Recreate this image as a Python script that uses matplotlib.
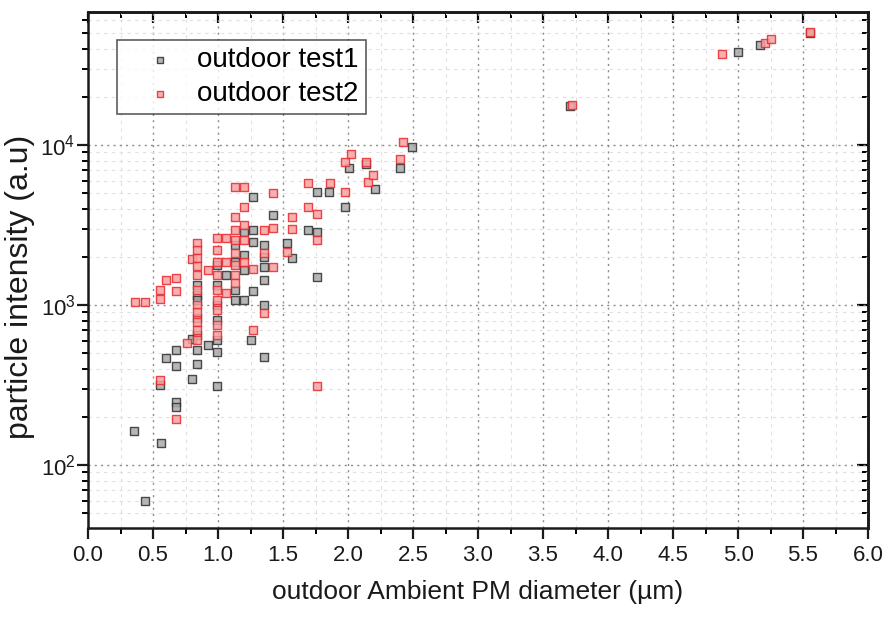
import matplotlib
matplotlib.use("Agg")
import matplotlib.pyplot as plt
from matplotlib.ticker import LogLocator, NullFormatter, MultipleLocator, FixedLocator
import numpy as np

plt.rcParams['font.family'] = ['Liberation Sans', 'DejaVu Sans']

# outdoor test 1 (diameter in um, intensity in a.u.)
test1_x = [0.35, 0.44, 0.56, 0.55, 0.60, 0.68, 0.68, 0.68, 0.68, 0.80, 0.84, 0.80, 0.92, 0.99,
           0.84, 0.84, 0.84, 0.84, 0.84, 0.84,
           0.99, 0.99, 0.99, 0.99, 0.99, 0.99,
           1.13, 1.13, 1.13, 1.13,
           1.20, 1.20, 1.20, 1.20, 1.25,
           1.27, 1.27, 1.27, 1.27,
           1.35, 1.35, 1.35, 1.35, 1.35, 1.35,
           1.06, 1.42, 1.53, 1.57, 1.69, 1.76, 1.76, 1.76, 1.85, 1.98, 2.01, 2.14, 2.21,
           2.40, 2.49, 3.71, 5.00, 5.17, 5.55]
test1_y = [164, 60, 137, 316, 465, 524, 417, 247, 229, 345, 427, 610, 562, 312,
           1334, 1155, 1072, 830, 650, 524,
           1778, 1334, 1000, 805, 602, 509,
           2371, 1858, 1240, 1072,
           2858, 2054, 1660, 1072, 605,
           4730, 2950, 2470, 1230,
           2000, 2371, 1730, 1433, 1000, 473,
           1550, 3650, 2450, 1960, 2940, 2870, 1500, 5100, 5100, 4100, 7200, 7600, 5300,
           7200, 9700, 17500, 38300, 42200, 50000]

# outdoor test 2
test2_x = [0.36, 0.44, 0.55, 0.55, 0.60, 0.68, 0.68, 0.55, 0.68, 0.76, 0.80, 0.92, 1.27, 1.35,
           0.84, 0.84, 0.84, 0.84, 0.84, 0.84, 0.84, 0.84, 0.84, 0.84, 0.84,
           0.99, 0.99, 0.99, 0.99, 0.99, 0.99, 0.99, 0.99, 0.99,
           1.06, 1.06, 1.06,
           1.13, 1.13, 1.13, 1.13, 1.13, 1.13, 1.13, 1.13,
           1.20, 1.20, 1.20, 1.20, 1.20,
           1.27, 1.35, 1.35,
           1.42, 1.42, 1.42, 1.57, 1.57, 1.53, 1.69, 1.69, 1.76, 1.76, 1.76, 1.86,
           1.98, 1.98, 2.02, 2.14, 2.15, 2.19, 2.40, 2.42, 3.72, 4.88, 5.21, 5.25, 5.55]
test2_y = [1048, 1048, 1090, 1240, 1440, 1480, 1230, 340, 195, 575, 1940, 1660, 694, 890,
           2440, 2210, 1970, 1750, 1550, 1240, 1000, 904, 783, 695, 602,
           2630, 2210, 1858, 1550, 1240, 1072, 930, 750, 649,
           2630, 1190, 1858,
           5480, 3550, 2940, 2550, 2110, 1778, 1550, 1372,
           5480, 4070, 3160, 2550, 1858,
           1670, 2950, 2110,
           5000, 1730, 3030, 3550, 2990, 2140, 5800, 4100, 3700, 2560, 310, 5800,
           7800, 5100, 8800, 7800, 5900, 6500, 8200, 10400, 17800, 37000, 43500, 46000, 51000]

series_labels = ["outdoor test1", "outdoor test2"]
x_ticks = [0.0, 0.5, 1.0, 1.5, 2.0, 2.5, 3.0, 3.5, 4.0, 4.5, 5.0, 5.5, 6.0]

fig = plt.figure(figsize=(8.9, 6.19), dpi=100)
ax = fig.add_axes([88 / 890, 1 - 528 / 619, 780 / 890, 516 / 619])

ax.set_yscale('log')
ax.set_xlim(0.0, 6.0)
ax.set_ylim(40.4, 67800)

# grid: dotted majors, faint dashed minors
ax.grid(True, which='major', color='#8c8c8c', linestyle=(0, (1.5, 3)), linewidth=1.0)
ax.grid(True, which='minor', color='#e0e0e0', linestyle=(0, (3, 4)), linewidth=0.8)
ax.set_axisbelow(True)

ms = 34
ax.scatter(test1_x, test1_y, s=ms, marker='s', facecolors='#a9a9a9', edgecolors='#2e2e2e',
           linewidths=1.0, alpha=0.85, label=series_labels[0], zorder=3)
ax.scatter(test2_x, test2_y, s=ms, marker='s', facecolors='#f6a3a3', edgecolors='#e8282e',
           linewidths=1.0, alpha=0.85, label=series_labels[1], zorder=3)

ax.xaxis.set_major_locator(FixedLocator(x_ticks))
ax.xaxis.set_minor_locator(MultipleLocator(0.25))
ax.set_xticklabels([f"{v:.1f}" for v in x_ticks])
ax.yaxis.set_major_locator(LogLocator(base=10))
ax.yaxis.set_minor_locator(LogLocator(base=10, subs=np.arange(2, 10)))
ax.yaxis.set_minor_formatter(NullFormatter())

ax.tick_params(axis='both', which='major', direction='out', length=8, width=1.6,
               labelsize=16, colors='#1a1a1a')
ax.tick_params(axis='both', which='minor', direction='out', length=4, width=1.4)
ax.tick_params(axis='x', pad=4)
ax.tick_params(axis='y', pad=1)

for s in ax.spines.values():
    s.set_linewidth(1.8)
    s.set_color('#1a1a1a')

# mirrored inward ticks on top and right
top = ax.secondary_xaxis('top')
top.xaxis.set_major_locator(FixedLocator(x_ticks))
top.xaxis.set_minor_locator(MultipleLocator(0.25))
top.tick_params(which='major', direction='in', length=8, width=1.6, labeltop=False)
top.tick_params(which='minor', direction='in', length=4, width=1.4)
top.spines['top'].set_linewidth(1.8)
right = ax.secondary_yaxis('right')
right.yaxis.set_major_locator(LogLocator(base=10))
right.yaxis.set_minor_locator(LogLocator(base=10, subs=np.arange(2, 10)))
right.tick_params(which='major', direction='in', length=8, width=1.6, labelright=False)
right.tick_params(which='minor', direction='in', length=4, width=1.4)
right.spines['right'].set_linewidth(1.8)

ax.set_xlabel("outdoor Ambient PM diameter (\u00b5m)", fontsize=19, labelpad=10, color='#1a1a1a')
ax.set_ylabel("particle intensity (a.u)", fontsize=23, color='#1a1a1a')
ax.yaxis.set_label_coords(-0.068, 0.467)

leg = ax.legend(loc='upper left', bbox_to_anchor=(0.037, 0.946), borderaxespad=0,
                fontsize=20, frameon=True, fancybox=False, edgecolor='#333333',
                handletextpad=0.05, borderpad=0.25, labelspacing=0.3, markerscale=0.8,
                handlelength=2.6)
leg.get_frame().set_linewidth(1.2)

fig.savefig("out.png", dpi=100)
